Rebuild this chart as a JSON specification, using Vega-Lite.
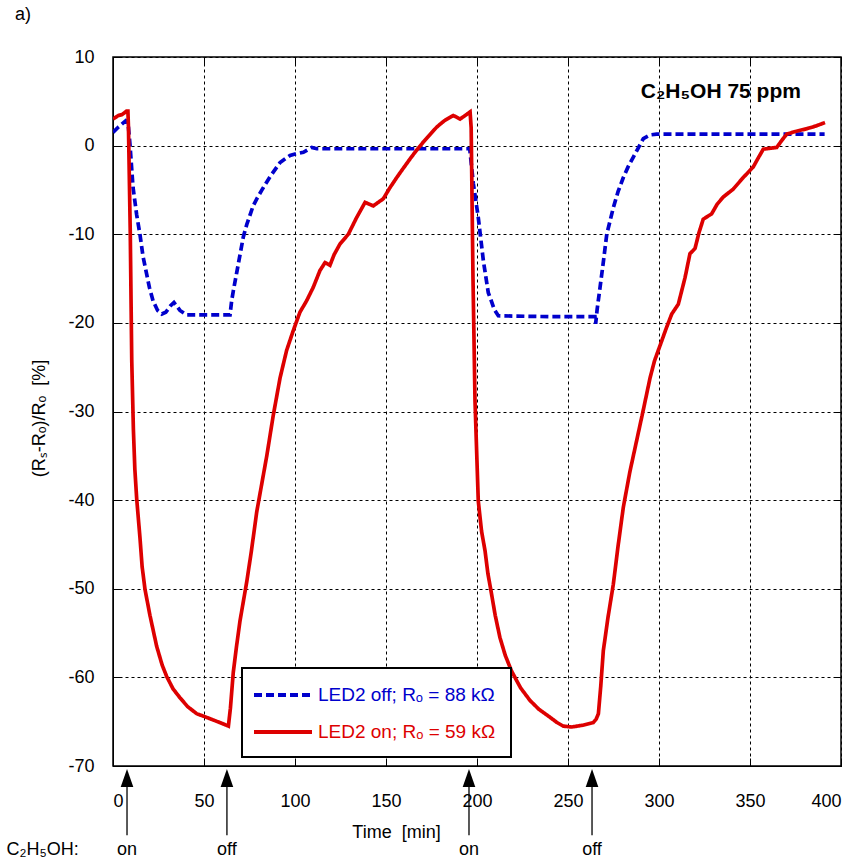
{
  "$schema": "https://vega.github.io/schema/vega-lite/v6.json",
  "width": 728,
  "height": 709,
  "autosize": {"type": "none"},
  "padding": {"left": 113, "top": 57, "right": 20, "bottom": 97},
  "background": "white",
  "title": {"text": "a)", "anchor": "start", "frame": "group", "dx": -98, "offset": 24, "fontSize": 18, "fontWeight": "normal", "font": "Liberation Sans", "color": "black"},
  "config": {
    "font": "Liberation Sans",
    "view": {"stroke": "black", "strokeWidth": 1.5},
    "axis": {
      "labelFont": "Liberation Sans",
      "labelFontSize": 18,
      "labelColor": "black",
      "titleFont": "Liberation Sans",
      "titleFontSize": 18,
      "titleFontWeight": "normal",
      "titleColor": "black",
      "domainColor": "black",
      "tickColor": "black",
      "gridColor": "black",
      "gridOpacity": 1,
      "gridDash": [3, 3],
      "gridWidth": 1
    }
  },
  "datasets": {
    "curves": [
      {"s": "off", "t": 0, "v": 1.5}, {"s": "off", "t": 3, "v": 2.1}, {"s": "off", "t": 7, "v": 2.8}, {"s": "off", "t": 8.3, "v": 2.5},
      {"s": "off", "t": 9.3, "v": 0.2}, {"s": "off", "t": 11, "v": -4.7}, {"s": "off", "t": 13, "v": -7.8}, {"s": "off", "t": 14.8, "v": -10},
      {"s": "off", "t": 16.5, "v": -12.5}, {"s": "off", "t": 18.5, "v": -14.5}, {"s": "off", "t": 20, "v": -16}, {"s": "off", "t": 22, "v": -17.5},
      {"s": "off", "t": 24.5, "v": -18.6}, {"s": "off", "t": 26.8, "v": -19.0}, {"s": "off", "t": 29, "v": -18.8}, {"s": "off", "t": 31.5, "v": -18.1},
      {"s": "off", "t": 33.5, "v": -17.7}, {"s": "off", "t": 35, "v": -18.1}, {"s": "off", "t": 36.8, "v": -18.6}, {"s": "off", "t": 40.5, "v": -19.1},
      {"s": "off", "t": 50, "v": -19.1}, {"s": "off", "t": 64.3, "v": -19.1}, {"s": "off", "t": 65.2, "v": -17.5}, {"s": "off", "t": 66.1, "v": -16.4},
      {"s": "off", "t": 68, "v": -14.3}, {"s": "off", "t": 71.6, "v": -10.3}, {"s": "off", "t": 73.5, "v": -8.9}, {"s": "off", "t": 77, "v": -6.8},
      {"s": "off", "t": 79, "v": -6.0}, {"s": "off", "t": 82.4, "v": -4.8}, {"s": "off", "t": 86.3, "v": -3.5}, {"s": "off", "t": 91.8, "v": -1.9},
      {"s": "off", "t": 97.3, "v": -1.1}, {"s": "off", "t": 101, "v": -0.9}, {"s": "off", "t": 104.6, "v": -0.75}, {"s": "off", "t": 109.2, "v": -0.2},
      {"s": "off", "t": 112, "v": -0.35}, {"s": "off", "t": 150, "v": -0.35}, {"s": "off", "t": 196, "v": -0.35}, {"s": "off", "t": 198, "v": -4.3},
      {"s": "off", "t": 200.7, "v": -8.1}, {"s": "off", "t": 203.5, "v": -13}, {"s": "off", "t": 206.2, "v": -16.6}, {"s": "off", "t": 207.5, "v": -17.3},
      {"s": "off", "t": 209.5, "v": -18.5}, {"s": "off", "t": 211.7, "v": -19.2}, {"s": "off", "t": 240, "v": -19.3}, {"s": "off", "t": 264.8, "v": -19.3},
      {"s": "off", "t": 265.2, "v": -20.1}, {"s": "off", "t": 266, "v": -18.5}, {"s": "off", "t": 267.6, "v": -16}, {"s": "off", "t": 269.5, "v": -13},
      {"s": "off", "t": 271.3, "v": -10}, {"s": "off", "t": 274.9, "v": -7}, {"s": "off", "t": 277.5, "v": -5.2}, {"s": "off", "t": 280.4, "v": -3.6},
      {"s": "off", "t": 283, "v": -2.4}, {"s": "off", "t": 285.9, "v": -1.3}, {"s": "off", "t": 288.5, "v": -0.3}, {"s": "off", "t": 291.4, "v": 0.8},
      {"s": "off", "t": 295, "v": 1.2}, {"s": "off", "t": 298.7, "v": 1.3}, {"s": "off", "t": 340, "v": 1.3}, {"s": "off", "t": 391, "v": 1.3},

      {"s": "on", "t": 0, "v": 3.0}, {"s": "on", "t": 3, "v": 3.4}, {"s": "on", "t": 5, "v": 3.5}, {"s": "on", "t": 7.5, "v": 3.9},
      {"s": "on", "t": 8.2, "v": 3.9}, {"s": "on", "t": 8.5, "v": 2}, {"s": "on", "t": 9.5, "v": -10}, {"s": "on", "t": 10.3, "v": -24.2},
      {"s": "on", "t": 11.2, "v": -32}, {"s": "on", "t": 12, "v": -36.5}, {"s": "on", "t": 13, "v": -39.8}, {"s": "on", "t": 14.8, "v": -44.2},
      {"s": "on", "t": 16, "v": -47.5}, {"s": "on", "t": 17.6, "v": -50.1}, {"s": "on", "t": 20.3, "v": -53}, {"s": "on", "t": 24, "v": -56.5},
      {"s": "on", "t": 27, "v": -58.6}, {"s": "on", "t": 29.5, "v": -59.9}, {"s": "on", "t": 33, "v": -61.3}, {"s": "on", "t": 36.8, "v": -62.3},
      {"s": "on", "t": 41, "v": -63.3}, {"s": "on", "t": 46, "v": -64.1}, {"s": "on", "t": 50, "v": -64.4}, {"s": "on", "t": 55, "v": -64.8},
      {"s": "on", "t": 60, "v": -65.2}, {"s": "on", "t": 63.4, "v": -65.5}, {"s": "on", "t": 64.5, "v": -63.5}, {"s": "on", "t": 66.1, "v": -59.4},
      {"s": "on", "t": 68, "v": -56.3}, {"s": "on", "t": 69.8, "v": -53.6}, {"s": "on", "t": 73.5, "v": -49.2}, {"s": "on", "t": 76, "v": -45.8},
      {"s": "on", "t": 79, "v": -41.3}, {"s": "on", "t": 84.5, "v": -35}, {"s": "on", "t": 88, "v": -30.5}, {"s": "on", "t": 91.8, "v": -26.2},
      {"s": "on", "t": 95.4, "v": -23.1}, {"s": "on", "t": 99, "v": -20.9}, {"s": "on", "t": 102.7, "v": -18.8}, {"s": "on", "t": 106.4, "v": -17.5},
      {"s": "on", "t": 110, "v": -16}, {"s": "on", "t": 113.7, "v": -14.1}, {"s": "on", "t": 116.5, "v": -13.2}, {"s": "on", "t": 119.2, "v": -13.5},
      {"s": "on", "t": 121.5, "v": -12.3}, {"s": "on", "t": 124.7, "v": -11.1}, {"s": "on", "t": 129.3, "v": -10}, {"s": "on", "t": 133.9, "v": -8.1},
      {"s": "on", "t": 138.5, "v": -6.4}, {"s": "on", "t": 143, "v": -6.8}, {"s": "on", "t": 148.5, "v": -6.0}, {"s": "on", "t": 152, "v": -4.8},
      {"s": "on", "t": 155.9, "v": -3.6}, {"s": "on", "t": 159, "v": -2.7}, {"s": "on", "t": 163.2, "v": -1.5}, {"s": "on", "t": 166.5, "v": -0.6},
      {"s": "on", "t": 170.5, "v": 0.4}, {"s": "on", "t": 174, "v": 1.2}, {"s": "on", "t": 177.9, "v": 2.1}, {"s": "on", "t": 182, "v": 2.8},
      {"s": "on", "t": 187, "v": 3.4}, {"s": "on", "t": 190.7, "v": 3.0}, {"s": "on", "t": 193.5, "v": 3.4}, {"s": "on", "t": 196.2, "v": 3.8},
      {"s": "on", "t": 196.8, "v": 2}, {"s": "on", "t": 197.8, "v": -15}, {"s": "on", "t": 198.9, "v": -28.8}, {"s": "on", "t": 200.7, "v": -40.1},
      {"s": "on", "t": 202.5, "v": -43.5}, {"s": "on", "t": 204.4, "v": -45.7}, {"s": "on", "t": 206, "v": -48.3}, {"s": "on", "t": 208, "v": -50.6},
      {"s": "on", "t": 210, "v": -53}, {"s": "on", "t": 212.6, "v": -55.5}, {"s": "on", "t": 215.5, "v": -57.5}, {"s": "on", "t": 219, "v": -59.3},
      {"s": "on", "t": 224, "v": -61.2}, {"s": "on", "t": 229.1, "v": -62.6}, {"s": "on", "t": 234, "v": -63.6}, {"s": "on", "t": 240.1, "v": -64.5},
      {"s": "on", "t": 244, "v": -65.1}, {"s": "on", "t": 247.4, "v": -65.5}, {"s": "on", "t": 252, "v": -65.6}, {"s": "on", "t": 258, "v": -65.4},
      {"s": "on", "t": 263.9, "v": -65.1}, {"s": "on", "t": 265.5, "v": -64.7}, {"s": "on", "t": 266.7, "v": -64.1}, {"s": "on", "t": 268, "v": -61},
      {"s": "on", "t": 269.4, "v": -57}, {"s": "on", "t": 272, "v": -53.2}, {"s": "on", "t": 274.9, "v": -49.5}, {"s": "on", "t": 277.5, "v": -45.2},
      {"s": "on", "t": 280.4, "v": -40.8}, {"s": "on", "t": 284, "v": -36.8}, {"s": "on", "t": 287.7, "v": -33.3}, {"s": "on", "t": 291.5, "v": -29.7},
      {"s": "on", "t": 295.1, "v": -26.2}, {"s": "on", "t": 297.5, "v": -24.3}, {"s": "on", "t": 300.5, "v": -22.6}, {"s": "on", "t": 304, "v": -20.6},
      {"s": "on", "t": 307, "v": -19}, {"s": "on", "t": 310.6, "v": -17.9}, {"s": "on", "t": 314.3, "v": -14.9}, {"s": "on", "t": 317, "v": -12.2},
      {"s": "on", "t": 319.8, "v": -11.6}, {"s": "on", "t": 322, "v": -9.8}, {"s": "on", "t": 324.3, "v": -8.3}, {"s": "on", "t": 328.9, "v": -7.7},
      {"s": "on", "t": 332, "v": -6.6}, {"s": "on", "t": 335.3, "v": -5.8}, {"s": "on", "t": 340.8, "v": -4.9}, {"s": "on", "t": 346.3, "v": -3.6},
      {"s": "on", "t": 351.8, "v": -2.4}, {"s": "on", "t": 354.5, "v": -1.4}, {"s": "on", "t": 357.3, "v": -0.4}, {"s": "on", "t": 364.7, "v": -0.2},
      {"s": "on", "t": 367.5, "v": 0.6}, {"s": "on", "t": 370.2, "v": 1.3}, {"s": "on", "t": 375, "v": 1.6}, {"s": "on", "t": 381.1, "v": 1.9},
      {"s": "on", "t": 386, "v": 2.2}, {"s": "on", "t": 391.2, "v": 2.6}
    ],
    "events": [
      {"t": 7.7, "e": "on"}, {"t": 62.6, "e": "off"}, {"t": 195.6, "e": "on"}, {"t": 263.2, "e": "off"}
    ]
  },
  "layer": [
    {
      "data": {"name": "curves"},
      "mark": {"type": "line", "strokeWidth": 3.7, "clip": true},
      "encoding": {
        "x": {
          "field": "t", "type": "quantitative",
          "scale": {"domain": [0, 400], "nice": false},
          "axis": {
            "orient": "bottom",
            "values": [0, 50, 100, 150, 200, 250, 300, 350, 400],
            "title": "Time \u00a0[min]",
            "titleX": 283, "titleY": 66, "titleBaseline": "middle", "titleAlign": "center",
            "tickSize": -8, "labelPadding": 34, "grid": true, "domain": true
          }
        },
        "y": {
          "field": "v", "type": "quantitative",
          "scale": {"domain": [-70, 10], "nice": false},
          "axis": {
            "orient": "left",
            "values": [-70, -60, -50, -40, -30, -20, -10, 0, 10],
            "labelExpr": "datum.value < 0 ? '-' + abs(datum.value) : '' + datum.value",
            "title": "(Rₛ-Rₒ)/Rₒ \u00a0[%]",
            "titleX": -74, "titleY": 361, "titleBaseline": "middle", "titleAlign": "center", "titleAngle": -90,
            "tickSize": -8, "labelPadding": 27, "grid": true, "domain": true
          }
        },
        "color": {
          "field": "s", "type": "nominal",
          "scale": {"domain": ["off", "on"], "range": ["#0000cc", "#dd0000"]},
          "legend": {
            "orient": "none", "legendX": 129, "legendY": 611, "direction": "vertical",
            "title": null,
            "labelExpr": "datum.value === 'off' ? 'LED2 off; Rₒ = 88 kΩ' : 'LED2 on; Rₒ = 59 kΩ'",
            "strokeColor": "black", "fillColor": "white",
            "padding": 15, "rowPadding": 15,
            "labelFont": "Liberation Sans", "labelFontSize": 19, "labelLimit": 400,
            "symbolType": "M-1.5,0L4.3,0", "symbolSize": 400, "symbolStrokeWidth": 4,
            "labelOffset": 37,
            "encode": {
              "legend": {"update": {"strokeWidth": {"value": 2}}},
              "labels": {"update": {"fill": [{"test": "datum.index === 0", "value": "#0000cc"}, {"value": "#dd0000"}]}}
            }
          }
        },
        "strokeDash": {
          "field": "s", "type": "nominal",
          "scale": {"domain": ["off", "on"], "range": [[8, 4], [1, 0]]}
        }
      }
    },
    {
      "data": {"name": "events"},
      "mark": {"type": "point", "opacity": 0},
      "encoding": {
        "x": {"datum": 0, "type": "quantitative", "axis": {"orient": "top", "values": [0, 50, 100, 150, 200, 250, 300, 350, 400], "labels": false, "grid": false, "domain": false, "tickSize": -7, "title": null}},
        "y": {"datum": 0, "type": "quantitative", "axis": {"orient": "right", "values": [-70, -60, -50, -40, -30, -20, -10, 0, 10], "labels": false, "grid": false, "domain": false, "tickSize": -7, "title": null}}
      }
    },
    {
      "data": {"name": "events"},
      "mark": {"type": "rule", "color": "black", "strokeWidth": 1.3, "clip": false},
      "encoding": {
        "x": {"field": "t", "type": "quantitative", "axis": null},
        "y": {"datum": -77.8, "type": "quantitative", "axis": null},
        "y2": {"datum": -72.3}
      }
    },
    {
      "data": {"name": "events"},
      "mark": {"type": "point", "shape": "M0,-1L0.7,1L-0.7,1Z", "filled": true, "color": "black", "opacity": 1, "size": 324, "clip": false},
      "encoding": {
        "x": {"field": "t", "type": "quantitative", "axis": null},
        "y": {"datum": -71.35, "type": "quantitative", "axis": null}
      }
    },
    {
      "data": {"name": "events"},
      "mark": {"type": "text", "fontSize": 18, "font": "Liberation Sans", "color": "black", "baseline": "alphabetic", "align": "center", "clip": false},
      "encoding": {
        "x": {"field": "t", "type": "quantitative", "axis": null},
        "y": {"datum": -80.05, "type": "quantitative", "axis": null},
        "text": {"field": "e"}
      }
    },
    {
      "data": {"values": [{"txt": "C₂H₅OH:"}]},
      "mark": {"type": "text", "fontSize": 18, "font": "Liberation Sans", "color": "black", "baseline": "alphabetic", "align": "left", "clip": false},
      "encoding": {
        "x": {"datum": -58.5, "type": "quantitative", "axis": null},
        "y": {"datum": -80.05, "type": "quantitative", "axis": null},
        "text": {"field": "txt"}
      }
    },
    {
      "data": {"values": [{"txt": "C₂H₅OH 75 ppm"}]},
      "mark": {"type": "text", "fontSize": 21, "fontWeight": "bold", "font": "Liberation Sans", "color": "black", "baseline": "alphabetic", "align": "center"},
      "encoding": {
        "x": {"datum": 334, "type": "quantitative", "axis": null},
        "y": {"datum": 5.4, "type": "quantitative", "axis": null},
        "text": {"field": "txt"}
      }
    }
  ],
  "resolve": {"axis": {"x": "independent", "y": "independent"}}
}
